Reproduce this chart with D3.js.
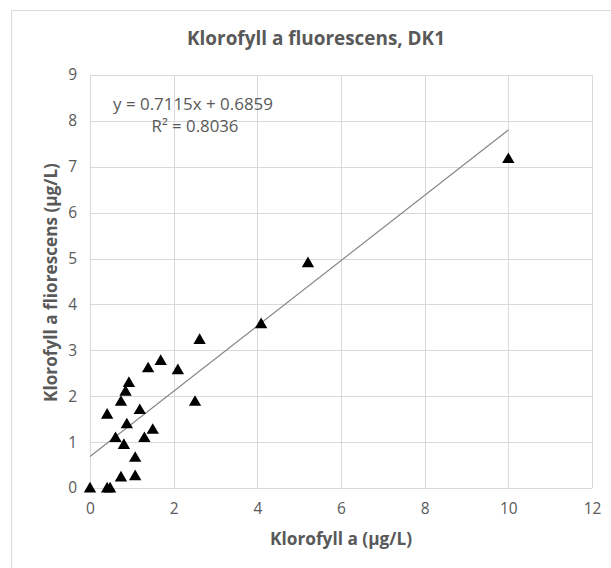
<!DOCTYPE html>
<html>
<head>
<meta charset="utf-8">
<script src="https://cdn.jsdelivr.net/npm/d3@7"></script>
<style>
  html, body { margin: 0; padding: 0; background: #fff; }
  svg { display: block; }
</style>
</head>
<body>
<svg id="chart" width="611" height="568"></svg>
<script>
// ---- data ----
const xValues = [0, 0.41, 0.48, 0.74, 1.08, 1.08, 0.81, 0.61, 1.30, 1.50, 0.88, 0.41, 1.19, 0.74, 0.85, 0.93, 1.39, 1.69, 2.10, 2.51, 2.62, 4.09, 5.21, 10.0];
const yValues = [0, 0, 0, 0.24, 0.27, 0.67, 0.95, 1.10, 1.10, 1.28, 1.40, 1.61, 1.71, 1.89, 2.11, 2.30, 2.62, 2.78, 2.58, 1.89, 3.24, 3.58, 4.91, 7.18];
const xTicks = [0, 2, 4, 6, 8, 10, 12];
const yTicks = [0, 1, 2, 3, 4, 5, 6, 7, 8, 9];
const slope = 0.7115;
const intercept = 0.6859;
const trendRange = [0, 10];
const titleText = "Klorofyll a fluorescens, DK1";
const xTitle = "Klorofyll a (\u00B5g/L)";
const yTitle = "Klorofyll a fliorescens (\u00B5g/L)";
const eqText = "y = 0.7115x + 0.6859";
const r2Text = "R\u00B2 = 0.8036";

// ---- layout ----
const svg = d3.select("#chart");
const plot = { left: 90, right: 592, top: 75, bottom: 488 };
const font = "'Open Sans', Lato, sans-serif";
const textColor = "#595959";
const gridColor = "#d9d9d9";

const x = d3.scaleLinear().domain([0, 12]).range([plot.left, plot.right]);
const y = d3.scaleLinear().domain([0, 9]).range([plot.bottom, plot.top]);

// fit text font-size to a target width
function fit(sel, target) {
  sel.style("font-size", "100px");
  const w = sel.node().getComputedTextLength();
  sel.style("font-size", (100 * target / w).toFixed(2) + "px");
  return sel;
}

// chart border
svg.append("rect")
  .attr("x", 11.5).attr("y", 10.5)
  .attr("width", 640).attr("height", 600)
  .attr("fill", "#fff").attr("stroke", gridColor).attr("stroke-width", 1);

// gridlines
const gx = svg.append("g");
gx.selectAll("line.v").data(xTicks).join("line")
  .attr("x1", d => Math.round(x(d)) + 0.5).attr("x2", d => Math.round(x(d)) + 0.5)
  .attr("y1", plot.top).attr("y2", plot.bottom)
  .attr("stroke", gridColor).attr("stroke-width", 1);
gx.selectAll("line.h").data(yTicks).join("line")
  .attr("x1", plot.left).attr("x2", plot.right)
  .attr("y1", d => Math.round(y(d)) + 0.5).attr("y2", d => Math.round(y(d)) + 0.5)
  .attr("stroke", gridColor).attr("stroke-width", 1);

// axes (labels only, via d3 axis)
const xAxis = svg.append("g")
  .attr("transform", `translate(0,${plot.bottom})`)
  .call(d3.axisBottom(x).tickValues(xTicks).tickSize(0).tickPadding(15).tickFormat(d3.format("d")));
xAxis.select(".domain").remove();
xAxis.selectAll("text").attr("fill", textColor).style("font-family", font).style("font-size", "15.5px");

const yAxis = svg.append("g")
  .attr("transform", `translate(${plot.left},0)`)
  .call(d3.axisLeft(y).tickValues(yTicks).tickSize(0).tickPadding(13).tickFormat(d3.format("d")));
yAxis.select(".domain").remove();
yAxis.selectAll("text").attr("fill", textColor).style("font-family", font).style("font-size", "15.5px");

// trendline
svg.append("line")
  .attr("x1", x(trendRange[0])).attr("y1", y(slope * trendRange[0] + intercept))
  .attr("x2", x(trendRange[1])).attr("y2", y(slope * trendRange[1] + intercept))
  .attr("stroke", "#868686").attr("stroke-width", 1.2);

// points
const pts = xValues.map((v, i) => ({ x: v, y: yValues[i] }));
const tri = d3.symbol().type(d3.symbolTriangle).size(66);
svg.append("g").selectAll("path").data(pts).join("path")
  .attr("d", tri)
  .attr("transform", d => `translate(${x(d.x)},${y(d.y) + 1})`)
  .attr("fill", "#000");

// equation
fit(svg.append("text").attr("x", 193).attr("y", 109.5).attr("text-anchor", "middle")
  .attr("fill", textColor).style("font-family", font).text(eqText), 160);
fit(svg.append("text").attr("x", 195).attr("y", 131.5).attr("text-anchor", "middle")
  .attr("fill", textColor).style("font-family", font).text(r2Text), 87);

// titles
fit(svg.append("text").attr("x", 316).attr("y", 45).attr("text-anchor", "middle")
  .attr("fill", textColor).style("font-family", font).style("font-weight", "bold")
  .text(titleText), 258);
fit(svg.append("text").attr("x", 341).attr("y", 545).attr("text-anchor", "middle")
  .attr("fill", textColor).style("font-family", font).style("font-weight", "bold")
  .text(xTitle), 142);
fit(svg.append("text").attr("transform", "translate(57,282.5) rotate(-90)").attr("text-anchor", "middle")
  .attr("fill", textColor).style("font-family", font).style("font-weight", "bold")
  .text(yTitle), 239);
</script>
</body>
</html>
